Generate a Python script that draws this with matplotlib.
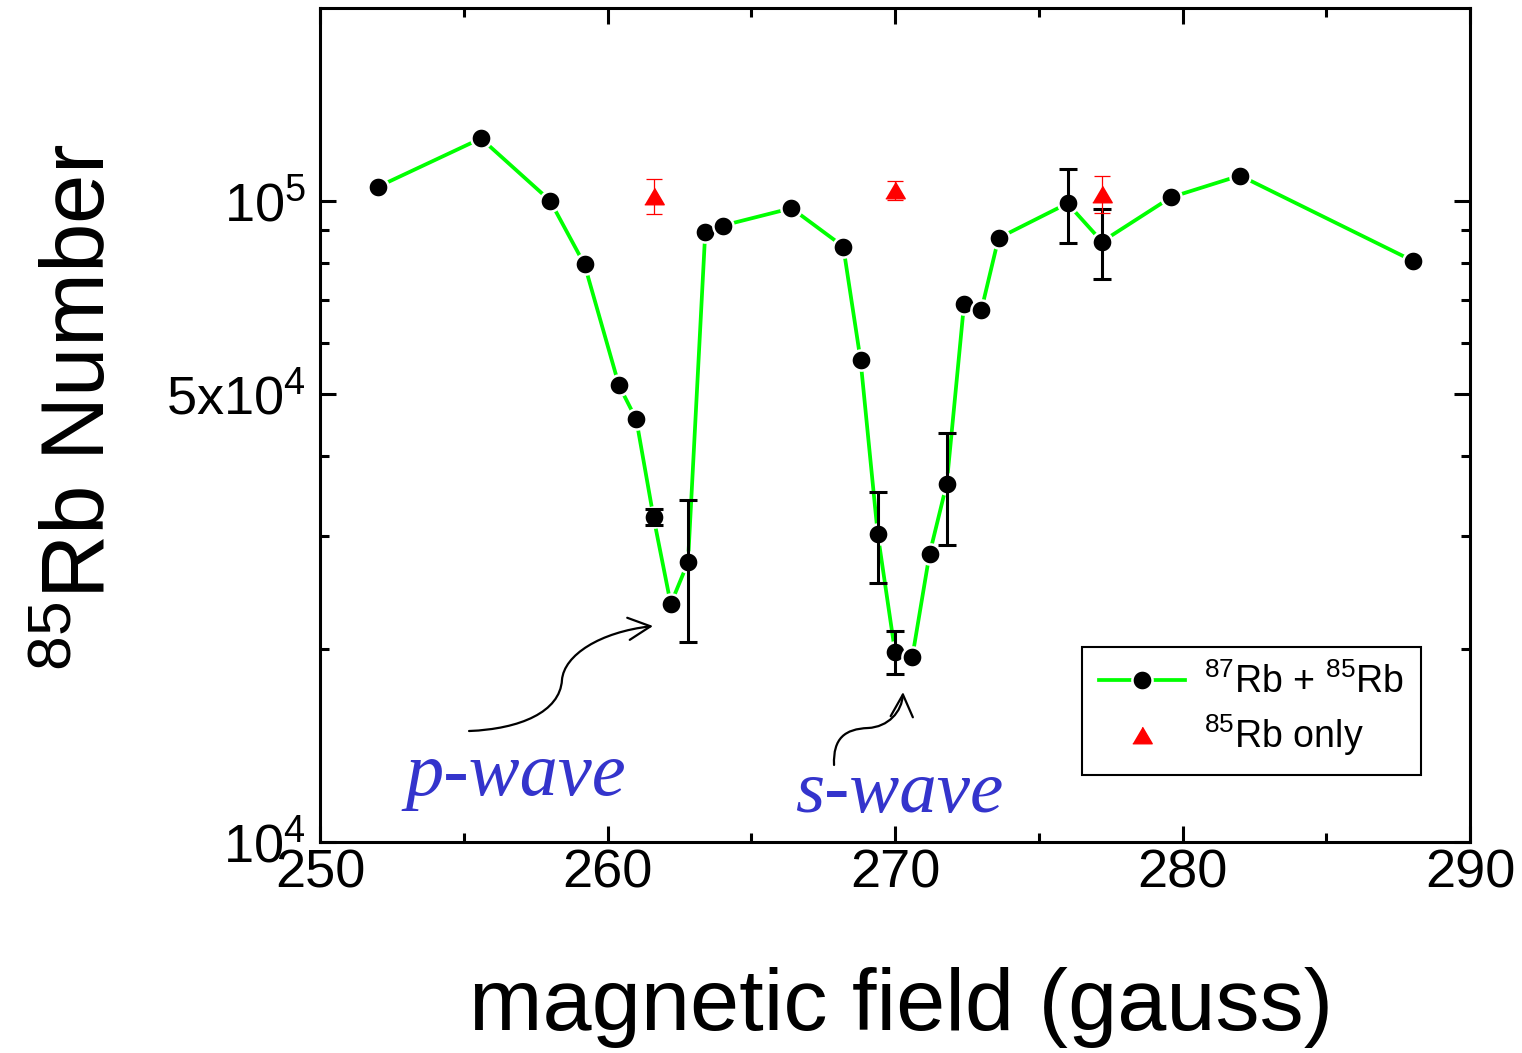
import matplotlib
matplotlib.use('Agg')
import matplotlib.pyplot as plt
from matplotlib.path import Path
from matplotlib.patches import FancyArrowPatch
from matplotlib.ticker import FixedLocator, NullFormatter
import numpy as np

plt.rcParams['font.family'] = ['Liberation Sans', 'DejaVu Sans']
plt.rcParams['mathtext.fontset'] = 'custom'
plt.rcParams['mathtext.rm'] = 'Liberation Sans'
plt.rcParams['mathtext.it'] = 'Liberation Sans:italic'
plt.rcParams['mathtext.bf'] = 'Liberation Sans:bold'
plt.rcParams['mathtext.default'] = 'regular'

nan = np.nan

# 87Rb + 85Rb mixture (black circles, green line)
field_mix = [252.0, 255.6, 258.0, 259.2, 260.4, 261.0, 261.6, 262.2, 262.8,
             263.4, 264.0, 266.4, 268.2, 268.8, 269.4, 270.0, 270.6, 271.2,
             271.8, 272.4, 273.0, 273.6, 276.0, 277.2, 279.6, 282.0, 288.0]
number_mix = [1.05e5, 1.25e5, 1.0e5, 7.95e4, 5.15e4, 4.56e4, 3.21e4, 2.35e4, 2.73e4,
              8.93e4, 9.14e4, 9.73e4, 8.48e4, 5.65e4, 3.02e4, 1.98e4, 1.94e4, 2.81e4,
              3.62e4, 6.89e4, 6.74e4, 8.74e4, 9.90e4, 8.63e4, 1.012e5, 1.094e5, 8.06e4]
err_mix = [nan, nan, nan, nan, nan, nan, 900, nan, 6800,
           nan, nan, nan, nan, nan, 4900, 1500, nan, nan,
           7200, nan, nan, nan, 13000, 10800, nan, nan, nan]

# 85Rb only (red triangles)
field_85 = [261.6, 270.0, 277.2]
number_85 = [1.017e5, 1.037e5, 1.024e5]
err_85 = [6500, 3500, 6900]

xticks = [250, 260, 270, 280, 290]
xminor = [255, 265, 275, 285]
yticks = [1e4, 5e4, 1e5]
ytick_labels = ['10$^4$', '5x10$^4$', '10$^5$']
yminor = [2e4, 3e4, 4e4, 6e4, 7e4, 8e4, 9e4]

fig = plt.figure(figsize=(15.22, 10.53), dpi=100)
ax = fig.add_axes([320/1522, 1-842/1053, 1150/1522, 834.5/1053])

ax.plot(field_mix, number_mix, '-', color='#00ff00', lw=2.7, marker='o', ms=14.5,
        mfc='k', mec='white', mew=1.8, label='$^{87}$Rb + $^{85}$Rb', zorder=2)
ax.errorbar(field_mix, number_mix, yerr=err_mix, fmt='none', ecolor='k',
            elinewidth=2.2, capsize=6.5, capthick=2.2, zorder=3)

tri = [(-1, -0.85), (1, -0.85), (0, 0.85)]
ax.errorbar(field_85, number_85, yerr=err_85, fmt='none', ecolor='red',
            elinewidth=0.9, capsize=6, capthick=0.9, zorder=3)
ax.plot(field_85, number_85, ls='none', marker=tri, ms=14, color='red',
        mec='red', label='$^{85}$Rb only', zorder=4)

ax.set_yscale('log')
ax.set_xlim(250, 290)
ax.set_ylim(1e4, 2e5)
ax.xaxis.set_major_locator(FixedLocator(xticks))
ax.xaxis.set_minor_locator(FixedLocator(xminor))
ax.set_xticklabels([str(t) for t in xticks])
ax.yaxis.set_major_locator(FixedLocator(yticks))
ax.yaxis.set_minor_locator(FixedLocator(yminor))
ax.yaxis.set_minor_formatter(NullFormatter())
ax.set_yticklabels(ytick_labels)

ax.tick_params(which='both', direction='in', top=True, right=True, width=2.2)
ax.tick_params(which='major', length=11.5, labelsize=39)
ax.tick_params(which='minor', length=6.5)
ax.tick_params(axis='x', pad=5)
ax.tick_params(axis='y', pad=10)
for sp in ax.spines.values():
    sp.set_linewidth(2.2)

# axis titles
fig.text(901/1522, 1-1030/1053, 'magnetic field (gauss)', fontsize=63.5,
         ha='center', va='baseline')
fig.text(105/1522, 1-407/1053, '$^{85}$Rb Number', fontsize=64, rotation=90,
         rotation_mode='anchor', ha='center', va='baseline')

# annotations
ax.text(0.0739, 0.0563, 'p-wave', transform=ax.transAxes, fontsize=55,
        family='Liberation Serif', style='italic', color='#3434cc',
        ha='left', va='baseline')
ax.text(0.413, 0.036, 's-wave', transform=ax.transAxes, fontsize=54,
        family='Liberation Serif', style='italic', color='#3434cc',
        ha='left', va='baseline')

codes = [Path.MOVETO, Path.CURVE4, Path.CURVE4, Path.CURVE4,
         Path.CURVE4, Path.CURVE4, Path.CURVE4]
p_path = Path([(0.1296, 0.1330), (0.1739, 0.1354), (0.2087, 0.1558), (0.2104, 0.1941),
               (0.2122, 0.2241), (0.2435, 0.2516), (0.2896, 0.2588)], codes)
s_path = Path([(0.4470, 0.0923), (0.4461, 0.1246), (0.4565, 0.1354), (0.4765, 0.1366),
               (0.4939, 0.1378), (0.5061, 0.1558), (0.5070, 0.1797)], codes)
for pth in (p_path, s_path):
    arr = FancyArrowPatch(path=pth, arrowstyle='->,head_length=0.8,head_width=0.4',
                          mutation_scale=20, lw=1.6, color='k',
                          transform=ax.transAxes)
    ax.add_patch(arr)

leg = ax.legend(loc='upper left', bbox_to_anchor=(0.6626, 0.2337), borderaxespad=0,
                frameon=True, fancybox=False, edgecolor='k', framealpha=1,
                fontsize=27, handlelength=2.3, handletextpad=0.5, borderpad=0.45,
                labelspacing=0.3)
leg.get_frame().set_linewidth(1.5)

plt.savefig('out.png', dpi=100)
